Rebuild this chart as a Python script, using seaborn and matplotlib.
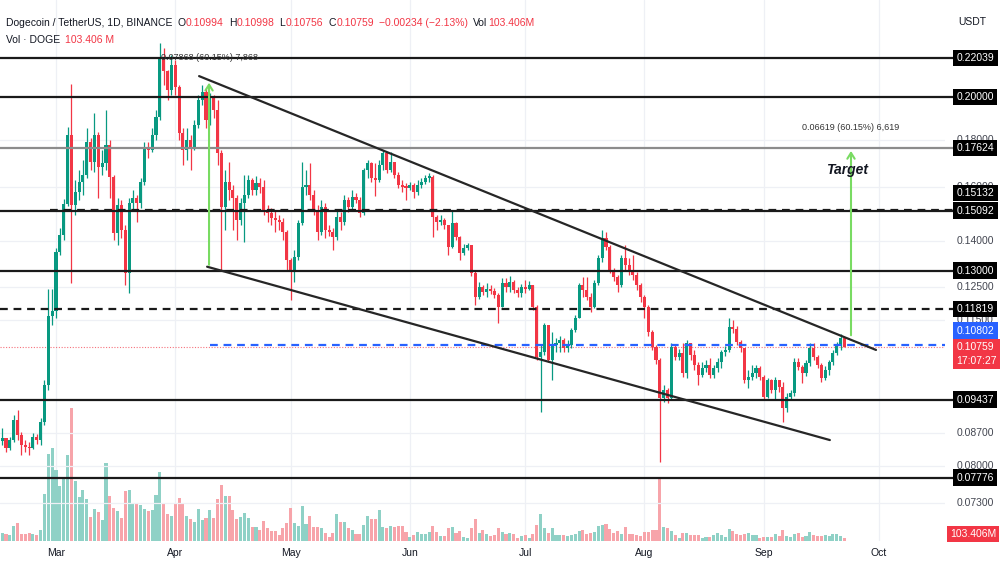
import numpy as np
import pandas as pd
import matplotlib
matplotlib.use("Agg")
import matplotlib.pyplot as plt
import matplotlib.dates as mdates
from matplotlib.transforms import blended_transform_factory
import seaborn as sns

sns.set_theme(style="white")
plt.rcParams["font.family"] = ["Liberation Sans", "DejaVu Sans"]

# ---------------- data ----------------
start_date = "2024-02-16"
first_open = 0.0852
close = [
    0.0858, 0.0837, 0.0854, 0.0898, 0.0865, 0.0844, 0.0840, 0.0837, 0.0860, 0.0854,
    0.0894, 0.0979, 0.1162, 0.1176, 0.1362, 0.1421, 0.1534, 0.1821, 0.1530, 0.1580,
    0.1620, 0.1649, 0.1789, 0.1703, 0.1821, 0.1682, 0.1698, 0.1776, 0.1641, 0.1428,
    0.1530, 0.1438, 0.1292, 0.1538, 0.1557, 0.1538, 0.1620, 0.1763, 0.1754, 0.1821,
    0.1904, 0.2209, 0.2134, 0.2036, 0.2166, 0.2051, 0.1830, 0.1754, 0.1798, 0.1767,
    0.1866, 0.1986, 0.2026, 0.1890, 0.1996, 0.1937, 0.1741, 0.1523, 0.1620, 0.1588,
    0.1557, 0.1474, 0.1538, 0.1569, 0.1628, 0.1588, 0.1616, 0.1600, 0.1511, 0.1500,
    0.1482, 0.1474, 0.1467, 0.1431, 0.1335, 0.1302, 0.1345, 0.1463, 0.1600, 0.1608,
    0.1569, 0.1511, 0.1431, 0.1523, 0.1438, 0.1431, 0.1414, 0.1485, 0.1467, 0.1549,
    0.1523, 0.1561, 0.1549, 0.1500, 0.1669, 0.1698, 0.1636, 0.1628, 0.1690, 0.1741,
    0.1669, 0.1703, 0.1649, 0.1608, 0.1600, 0.1596, 0.1608, 0.1580, 0.1608, 0.1620,
    0.1636, 0.1641, 0.1485, 0.1467, 0.1474, 0.1456, 0.1379, 0.1463, 0.1414, 0.1359,
    0.1376, 0.1386, 0.1292, 0.1218, 0.1248, 0.1233, 0.1242, 0.1236, 0.1224, 0.1188,
    0.1261, 0.1248, 0.1264, 0.1239, 0.1230, 0.1248, 0.1242, 0.1255, 0.1188, 0.1050,
    0.1063, 0.1136, 0.1042, 0.1081, 0.1087, 0.1095, 0.1073, 0.1081, 0.1122, 0.1156,
    0.1255, 0.1239, 0.1218, 0.1188, 0.1261, 0.1342, 0.1410, 0.1379, 0.1302, 0.1280,
    0.1255, 0.1342, 0.1319, 0.1302, 0.1286, 0.1255, 0.1218, 0.1188, 0.1117, 0.1076,
    0.1042, 0.0948, 0.0967, 0.0948, 0.1076, 0.1050, 0.1060, 0.1009, 0.1087, 0.1055,
    0.1029, 0.1004, 0.1021, 0.1029, 0.1004, 0.1021, 0.1037, 0.1063, 0.1068, 0.1130,
    0.1125, 0.1090, 0.1073, 0.0991, 0.0999, 0.1009, 0.1021, 0.0999, 0.0950, 0.0991,
    0.0967, 0.0991, 0.0974, 0.0925, 0.0950, 0.0960, 0.1037, 0.1024, 0.1009, 0.1034,
    0.1073, 0.1050, 0.1029, 0.0996, 0.1016, 0.1037, 0.1060, 0.1081, 0.10994, 0.10759,
]
high = [
    0.0880, 0.0858, 0.0860, 0.0909, 0.0920, 0.0872, 0.0854, 0.0850, 0.0869, 0.0867,
    0.0902, 0.0991, 0.1242, 0.1242, 0.1376, 0.1446, 0.1553, 0.1857, 0.2066, 0.1628,
    0.1669, 0.1711, 0.1852, 0.1807, 0.1923, 0.1834, 0.1754, 0.1937, 0.1798, 0.1649,
    0.1557, 0.1549, 0.1456, 0.1557, 0.1588, 0.1569, 0.1636, 0.1789, 0.1789, 0.1852,
    0.1937, 0.2287, 0.2259, 0.2139, 0.2220, 0.2193, 0.2061, 0.1852, 0.1852, 0.1821,
    0.1890, 0.2011, 0.2061, 0.2046, 0.2021, 0.2011, 0.1986, 0.1754, 0.1669, 0.1703,
    0.1608, 0.1569, 0.1557, 0.1649, 0.1649, 0.1636, 0.1645, 0.1636, 0.1628, 0.1530,
    0.1519, 0.1511, 0.1493, 0.1482, 0.1438, 0.1342, 0.1369, 0.1474, 0.1703, 0.1669,
    0.1698, 0.1588, 0.1530, 0.1549, 0.1538, 0.1456, 0.1446, 0.1511, 0.1504, 0.1569,
    0.1561, 0.1588, 0.1577, 0.1561, 0.1677, 0.1711, 0.1703, 0.1698, 0.1711, 0.1754,
    0.1746, 0.1746, 0.1698, 0.1661, 0.1628, 0.1616, 0.1620, 0.1616, 0.1628, 0.1636,
    0.1649, 0.1657, 0.1649, 0.1493, 0.1493, 0.1482, 0.1453, 0.1511, 0.1467, 0.1417,
    0.1390, 0.1393, 0.1386, 0.1302, 0.1264, 0.1255, 0.1261, 0.1255, 0.1245, 0.1230,
    0.1277, 0.1277, 0.1283, 0.1270, 0.1248, 0.1258, 0.1270, 0.1267, 0.1255, 0.1194,
    0.1081, 0.1142, 0.1136, 0.1116, 0.1100, 0.1106, 0.1100, 0.1095, 0.1128, 0.1165,
    0.1261, 0.1280, 0.1280, 0.1230, 0.1270, 0.1352, 0.1438, 0.1431, 0.1386, 0.1309,
    0.1286, 0.1352, 0.1386, 0.1342, 0.1352, 0.1296, 0.1261, 0.1224, 0.1194, 0.1122,
    0.1081, 0.1047, 0.0979, 0.0972, 0.1087, 0.1081, 0.1071, 0.1087, 0.1095, 0.1087,
    0.1068, 0.1037, 0.1037, 0.1042, 0.1047, 0.1029, 0.1047, 0.1068, 0.1079, 0.1156,
    0.1150, 0.1133, 0.1095, 0.1073, 0.1016, 0.1029, 0.1029, 0.1026, 0.1004, 0.0996,
    0.0994, 0.0999, 0.0986, 0.0986, 0.0960, 0.0967, 0.1047, 0.1047, 0.1029, 0.1042,
    0.1087, 0.1087, 0.1055, 0.1034, 0.1026, 0.1042, 0.1068, 0.1090, 0.1112, 0.10998,
]
low = [
    0.0844, 0.0829, 0.0833, 0.0850, 0.0854, 0.0823, 0.0829, 0.0823, 0.0835, 0.0846,
    0.0844, 0.0887, 0.0967, 0.1136, 0.1156, 0.1352, 0.1403, 0.1526, 0.1261, 0.1493,
    0.1549, 0.1569, 0.1636, 0.1669, 0.1661, 0.1557, 0.1649, 0.1669, 0.1557, 0.1403,
    0.1386, 0.1410, 0.1255, 0.1230, 0.1511, 0.1467, 0.1519, 0.1608, 0.1720, 0.1746,
    0.1798, 0.1890, 0.2061, 0.1986, 0.2011, 0.2011, 0.1798, 0.1690, 0.1711, 0.1669,
    0.1754, 0.1852, 0.1961, 0.1852, 0.1866, 0.1899, 0.1690, 0.1302, 0.1438, 0.1549,
    0.1438, 0.1403, 0.1456, 0.1396, 0.1557, 0.1569, 0.1569, 0.1577, 0.1493, 0.1467,
    0.1456, 0.1431, 0.1438, 0.1403, 0.1302, 0.1209, 0.1264, 0.1335, 0.1456, 0.1569,
    0.1549, 0.1493, 0.1403, 0.1421, 0.1410, 0.1417, 0.1369, 0.1403, 0.1438, 0.1456,
    0.1504, 0.1511, 0.1538, 0.1485, 0.1493, 0.1636, 0.1620, 0.1565, 0.1620, 0.1669,
    0.1657, 0.1661, 0.1636, 0.1596, 0.1580, 0.1549, 0.1588, 0.1557, 0.1569, 0.1596,
    0.1612, 0.1620, 0.1414, 0.1438, 0.1456, 0.1442, 0.1352, 0.1376, 0.1403, 0.1335,
    0.1352, 0.1369, 0.1283, 0.1194, 0.1212, 0.1224, 0.1218, 0.1227, 0.1215, 0.1142,
    0.1188, 0.1233, 0.1233, 0.1230, 0.1218, 0.1218, 0.1230, 0.1239, 0.1179, 0.1042,
    0.0916, 0.1055, 0.1037, 0.0991, 0.1063, 0.1063, 0.1063, 0.1063, 0.1073, 0.1116,
    0.1156, 0.1218, 0.1209, 0.1173, 0.1185, 0.1255, 0.1329, 0.1369, 0.1292, 0.1267,
    0.1233, 0.1248, 0.1302, 0.1286, 0.1270, 0.1239, 0.1203, 0.1156, 0.1106, 0.1068,
    0.1032, 0.0809, 0.0939, 0.0937, 0.0943, 0.1042, 0.1042, 0.0999, 0.0996, 0.1042,
    0.1016, 0.0979, 0.0999, 0.1011, 0.0996, 0.0996, 0.1011, 0.1021, 0.1052, 0.1063,
    0.1114, 0.1081, 0.1063, 0.0984, 0.0972, 0.0991, 0.0996, 0.0991, 0.0943, 0.0948,
    0.0960, 0.0943, 0.0962, 0.0894, 0.0916, 0.0943, 0.0953, 0.1016, 0.0984, 0.1001,
    0.1026, 0.1042, 0.1021, 0.0986, 0.0991, 0.1004, 0.1029, 0.1055, 0.1068, 0.10756,
]
volume_m = [
    320, 280, 240, 600, 720, 280, 280, 320, 280, 240,
    440, 1880, 3480, 3720, 2840, 2200, 2560, 3440, 5320, 2400,
    1760, 2040, 1680, 960, 1280, 1160, 840, 3120, 1800, 1320,
    1200, 920, 2000, 2040, 1480, 1520, 1440, 1280, 1200, 1240,
    1840, 2760, 1480, 1080, 1000, 1480, 1720, 1480, 1000, 880,
    760, 1280, 840, 920, 1240, 920, 1680, 2240, 1800, 1800,
    1240, 880, 960, 1120, 920, 560, 560, 440, 800, 520,
    400, 400, 240, 520, 720, 1320, 720, 600, 1400, 680,
    1000, 560, 560, 520, 320, 160, 320, 1080, 760, 760,
    520, 440, 280, 280, 640, 1000, 880, 880, 1240, 560,
    520, 600, 560, 600, 600, 360, 160, 240, 360, 280,
    280, 360, 600, 360, 200, 200, 520, 560, 320, 400,
    160, 120, 520, 880, 320, 440, 280, 200, 240, 520,
    360, 280, 320, 280, 120, 200, 240, 120, 280, 640,
    1080, 520, 320, 520, 240, 240, 240, 200, 240, 280,
    400, 440, 280, 320, 360, 600, 640, 680, 480, 320,
    400, 280, 560, 280, 280, 240, 200, 360, 360, 440,
    440, 2520, 560, 520, 400, 240, 120, 320, 320, 240,
    240, 240, 120, 160, 160, 240, 320, 240, 160, 480,
    400, 280, 240, 280, 320, 240, 240, 120, 160, 160,
    160, 280, 200, 440, 200, 160, 280, 320, 160, 200,
    360, 240, 200, 200, 240, 200, 280, 280, 200, 103.406,
]

solid_levels = [0.22039, 0.20000, 0.15092, 0.13000, 0.09437, 0.07776]
gray_levels = [0.17624]
dashed_levels = [0.15132, 0.11819]
dashed_level_starts = ["2024-02-28 11:00", "2024-02-15 00:00"]
blue_level = 0.10802
blue_level_start = "2024-04-10"
tick_prices = [0.18, 0.16, 0.14, 0.125, 0.115, 0.087, 0.08, 0.073]
month_labels = ["Mar", "Apr", "May", "Jun", "Jul", "Aug", "Sep", "Oct"]
month_starts = ["2024-03-01", "2024-04-01", "2024-05-01", "2024-06-01",
                "2024-07-01", "2024-08-01", "2024-09-01", "2024-10-01"]

upper_wedge_dates = ["2024-04-07 05:00", "2024-09-30 05:00"]
upper_wedge_prices = [0.2107, 0.1068]
lower_wedge_dates = ["2024-04-09 07:00", "2024-09-18 05:00"]
lower_wedge_prices = [0.1313, 0.0854]

arrow1_date, arrow1_prices = "2024-04-09 19:00", [0.1310, 0.2087]
arrow1_text, arrow1_text_price = "0.07868 (60.15%) 7,868", 0.2209
arrow2_date, arrow2_prices = "2024-09-23 17:00", [0.1100, 0.1762]
arrow2_text, arrow2_text_price = "0.06619 (60.15%) 6,619", 0.1857
target_text, target_price = "Target", 0.1669
change_text = "\u22120.00234 (\u22122.13%)"
countdown_text = "17:07:27"

# ---------------- frame ----------------
assert len(close) == len(high) == len(low) == len(volume_m)
dates = pd.date_range(start_date, periods=len(close), freq="D")
df = pd.DataFrame({"date": dates, "open": [first_open] + close[:-1], "high": high,
                   "low": low, "close": close, "volume": volume_m})
df["x"] = mdates.date2num(df["date"])
df["up"] = df["close"] >= df["open"]

UP, DOWN = "#089981", "#F23645"
VUP, VDOWN = "#8fd1c6", "#f7a4aa"
DARK = "#131722"
GREEN_TOOL = "#79db62"

W, H = 1000, 562
PR, PB = 945, 541
fig = plt.figure(figsize=(W / 100, H / 100), dpi=100)
rect = [0, (H - PB) / H, PR / W, PB / H]
axv = fig.add_axes(rect)
ax = fig.add_axes(rect, sharex=axv)
axv.set_zorder(0)
ax.set_zorder(1)
ax.patch.set_alpha(0)

mar1 = mdates.date2num(pd.Timestamp("2024-03-01"))
px_day = 3.846
xlim = (mar1 - 56 / px_day, mar1 + (PR - 56) / px_day)
ax.set_yscale("log")
ax.set_ylim(0.066477, 0.25450)
ax.set_xlim(*xlim)
axv.set_ylim(0, PB * 40)

for a in (ax, axv):
    for s in a.spines.values():
        s.set_visible(False)
    a.set_xticks([])
    a.set_yticks([])
ax.yaxis.set_minor_locator(matplotlib.ticker.NullLocator())
ax.yaxis.set_major_locator(matplotlib.ticker.NullLocator())

# grid
for m in month_starts:
    axv.axvline(mdates.date2num(pd.Timestamp(m)), color="#eef0f5", lw=0.9, zorder=0)
for p in tick_prices:
    ax.axhline(p, color="#eef0f5", lw=0.9, zorder=0)

# volume
axv.bar(df["x"], df["volume"], width=0.8,
        color=np.where(df["up"], VUP, VDOWN), linewidth=0, zorder=1)

# candles
cols = np.where(df["up"], UP, DOWN)
ax.vlines(df["x"], df["low"], df["high"], colors=cols, lw=0.9, zorder=3)
body_lo = np.minimum(df["open"], df["close"])
body_h = np.maximum(np.abs(df["close"] - df["open"]), body_lo * 0.004)
ax.bar(df["x"], body_h, bottom=body_lo, width=0.8, color=cols, linewidth=0, zorder=4)

# horizontal levels
T = blended_transform_factory(ax.transAxes, ax.transData)
ext = 953 / PR
for p in solid_levels:
    ax.plot([0, ext], [p, p], transform=T, color="#1a1a1a", lw=1.6, clip_on=False, zorder=5)
for p in gray_levels:
    ax.plot([0, ext], [p, p], transform=T, color="#8c8c8c", lw=1.6, clip_on=False, zorder=5)
for p, s in zip(dashed_levels, dashed_level_starts):
    xs = (mdates.date2num(pd.Timestamp(s)) - xlim[0]) / (xlim[1] - xlim[0])
    ax.plot([max(xs, 0), ext], [p, p], transform=T, color="#1a1a1a", lw=1.6,
            ls=(0, (3.5, 2.6)), clip_on=False, zorder=5)
xb = (mdates.date2num(pd.Timestamp(blue_level_start)) - xlim[0]) / (xlim[1] - xlim[0])
ax.plot([xb, 1], [blue_level, blue_level], transform=T, color="#2962FF", lw=1.6,
        ls=(0, (3.5, 2.6)), zorder=5)
ax.plot([0, 1], [close[-1], close[-1]], transform=T, color=DOWN, lw=0.8,
        ls=(0, (1, 1.5)), alpha=0.7, zorder=2)

# wedge lines (seaborn)
sns.lineplot(x=mdates.date2num(pd.to_datetime(upper_wedge_dates)), y=upper_wedge_prices,
             ax=ax, color="#262626", lw=1.6, zorder=6)
sns.lineplot(x=mdates.date2num(pd.to_datetime(lower_wedge_dates)), y=lower_wedge_prices,
             ax=ax, color="#262626", lw=1.6, zorder=6)

# range arrows
for d, (p0, p1) in ((arrow1_date, arrow1_prices), (arrow2_date, arrow2_prices)):
    xa = mdates.date2num(pd.Timestamp(d))
    ax.annotate("", xy=(xa, p1), xytext=(xa, p0),
                arrowprops=dict(arrowstyle="->,head_length=0.35,head_width=0.22",
                                color=GREEN_TOOL, lw=1.5), zorder=7)
ax.text(mdates.date2num(pd.Timestamp(arrow1_date)), arrow1_text_price, arrow1_text,
        ha="center", va="center", fontsize=6.5, color="#333333", zorder=8)
ax.text(mdates.date2num(pd.Timestamp(arrow2_date)), arrow2_text_price, arrow2_text,
        ha="center", va="center", fontsize=6.5, color="#333333", zorder=8)
ax.text(mdates.date2num(pd.Timestamp(arrow2_date)) - 1.0, target_price, target_text,
        ha="center", va="center", fontsize=10, color=DARK, fontweight="bold",
        fontstyle="italic", zorder=8)

# right price scale
lx = 956.5 / PR
for p in tick_prices:
    ax.text(lx, p, f"{p:.5f}", transform=T, ha="left", va="center", fontsize=7.5,
            color="#434651", clip_on=False, zorder=9)


def price_box(price, text, fc, label_price=None):
    ax.text(lx, label_price if label_price else price, text, transform=T, ha="left",
            va="center", fontsize=7.5, color="white", linespacing=1.5,
            bbox=dict(boxstyle="square,pad=0.32", fc=fc, ec="none"),
            clip_on=False, zorder=10)


for p in solid_levels + gray_levels:
    price_box(p, f"{p:.5f}", "#000000")
price_box(0.15132, "0.15132", "#000000", label_price=0.1576)
price_box(0.11819, "0.11819", "#000000")
price_box(blue_level, f"{blue_level:.5f}", "#2962FF", label_price=0.1120)
price_box(close[-1], f"{close[-1]:.5f}\n{countdown_text}", DOWN, label_price=0.1057)

fig.text(973 / W, 1 - 534 / H, f"{volume_m[-1]:.3f}M", ha="center", va="center",
         fontsize=7.5, color="white",
         bbox=dict(boxstyle="square,pad=0.32", fc=DOWN, ec="none"))
fig.text(972 / W, 1 - 22 / H, "USDT", ha="center", va="center", fontsize=7.5, color=DARK)

# month labels
TX = blended_transform_factory(ax.transData, ax.transAxes)
for lab, m in zip(month_labels, month_starts):
    ax.text(mdates.date2num(pd.Timestamp(m)), -(553 - PB) / PB, lab, transform=TX,
            ha="center", va="center", fontsize=7.5, color=DARK, clip_on=False)

# header (laid out left to right)
renderer = fig.canvas.get_renderer()
o, h_, l_, c = df["open"].iloc[-1], high[-1], low[-1], close[-1]


def header_row(pieces, y, x0=6.0, size=7.5):
    x = x0
    for txt, col, gap in pieces:
        t = fig.text(x / W, 1 - y / H, txt, ha="left", va="center", fontsize=size, color=col)
        x += t.get_window_extent(renderer).width + gap


header_row([("Dogecoin / TetherUS, 1D, BINANCE", DARK, 5), ("O", DARK, 0.5),
            (f"{o:.5f}", DOWN, 5), ("H", DARK, 0.5), (f"{h_:.5f}", DOWN, 5),
            ("L", DARK, 0.5), (f"{l_:.5f}", DOWN, 5), ("C", DARK, 0.5),
            (f"{c:.5f}", DOWN, 5), (change_text, DOWN, 5), ("Vol", DARK, 0.5),
            (f"{volume_m[-1]:.3f}M", DOWN, 0)], 23)
header_row([("Vol \u00b7 DOGE", DARK, 5), (f"{volume_m[-1]:.3f} M", DOWN, 0)], 40)

fig.savefig("out.png", dpi=100, facecolor="white")
